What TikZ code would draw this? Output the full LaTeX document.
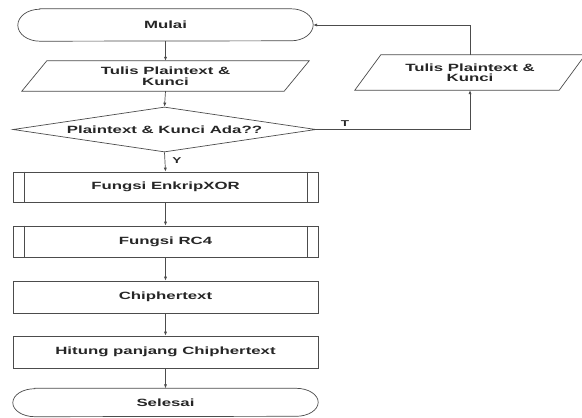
\documentclass[tikz,border=0pt]{standalone}
\usepackage{fontspec}
\newfontfamily\flowfont[FakeStretch=1.6]{Liberation Sans}
\usetikzlibrary{shapes.geometric,arrows.meta}
\begin{document}
\begin{tikzpicture}[x=1pt,y=-1pt,
  line/.style={draw=black!70, line width=0.7pt},
  arr/.style={line, -{Latex[length=4pt,width=3.2pt]}},
  txt/.style={font=\flowfont\bfseries\fontsize{10.5}{10.5}\selectfont, text=black!85, align=center, inner sep=0pt},
  box/.style={txt, line, rectangle, minimum width=305pt, minimum height=31pt},
  ghost/.style={txt, rectangle},
  decision/.style={txt, line, diamond, minimum width=303pt, minimum height=45pt, aspect=6.7},
  lbl/.style={font=\flowfont\bfseries\fontsize{8.5}{8.5}\selectfont, text=black!85, inner sep=0pt}
]
\useasboundingbox[fill=white] (0,0) rectangle (582,418);

% terminator Mulai
\node[ghost, minimum width=295pt, minimum height=32pt] (m) at (165.5,25) {Mulai};
\draw[line] ([xshift=22pt]m.north west) -- ([xshift=-22pt]m.north east)
  arc[start angle=90,end angle=-90,x radius=22pt,y radius=16pt]
  -- ([xshift=22pt]m.south west)
  arc[start angle=270,end angle=90,x radius=22pt,y radius=16pt] -- cycle;

% input parallelogram left
\node[ghost, minimum width=262pt, minimum height=30pt] (p1) at (165.5,76) {Tulis Plaintext \&\\Kunci};
\draw[line] ([xshift=12.5pt]p1.north west) -- ([xshift=12.5pt]p1.north east)
  -- ([xshift=-12.5pt]p1.south east) -- ([xshift=-12.5pt]p1.south west) -- cycle;

% decision
\node[decision] (d) at (164.5,129.5) {Plaintext \& Kunci Ada??};

% predefined processes
\node[box, minimum height=30pt] (f1) at (165.5,187) {Fungsi EnkripXOR};
\draw[line] ([xshift=12pt]f1.north west) -- ([xshift=12pt]f1.south west);
\draw[line] ([xshift=-11pt]f1.north east) -- ([xshift=-11pt]f1.south east);

\node[box] (f2) at (165.5,241.5) {Fungsi RC4};
\draw[line] ([xshift=12pt]f2.north west) -- ([xshift=12pt]f2.south west);
\draw[line] ([xshift=-11pt]f2.north east) -- ([xshift=-11pt]f2.south east);

% processes
\node[box, minimum height=32pt] (c) at (165.5,297) {Chiphertext};
\node[box, minimum height=32pt] (h) at (165.5,352) {Hitung panjang Chiphertext};

% terminator Selesai
\node[ghost, minimum width=305pt, minimum height=28pt] (s) at (165.5,402.5) {Selesai};
\draw[line] ([xshift=22pt]s.north west) -- ([xshift=-22pt]s.north east)
  arc[start angle=90,end angle=-90,x radius=22pt,y radius=14pt]
  -- ([xshift=22pt]s.south west)
  arc[start angle=270,end angle=90,x radius=22pt,y radius=14pt] -- cycle;

% input parallelogram right
\node[ghost, minimum width=204pt, minimum height=35pt] (p2) at (470,72.5) {Tulis Plaintext \&\\Kunci};
\draw[line] ([xshift=13pt]p2.north west) -- ([xshift=13pt]p2.north east)
  -- ([xshift=-13pt]p2.south east) -- ([xshift=-13pt]p2.south west) -- cycle;

% connectors
\draw[arr] (m.south) -- (p1.north);
\draw[arr] (p1.south) -- (d.north);
\draw[arr] (d.south) -- (f1.north);
\draw[arr] (f1.south) -- (f2.north);
\draw[arr] (f2.south) -- (c.north);
\draw[arr] (c.south) -- (h.north);
\draw[arr] (h.south) -- (s.north);
\draw[arr] (d.east) -| (p2.south);
\draw[arr] (p2.north) |- (m.east);

% labels
\node[lbl] (ylabel) at (177,161) {Y};
\node[lbl] (tlabel) at (345,123.5) {T};
\end{tikzpicture}
\end{document}
